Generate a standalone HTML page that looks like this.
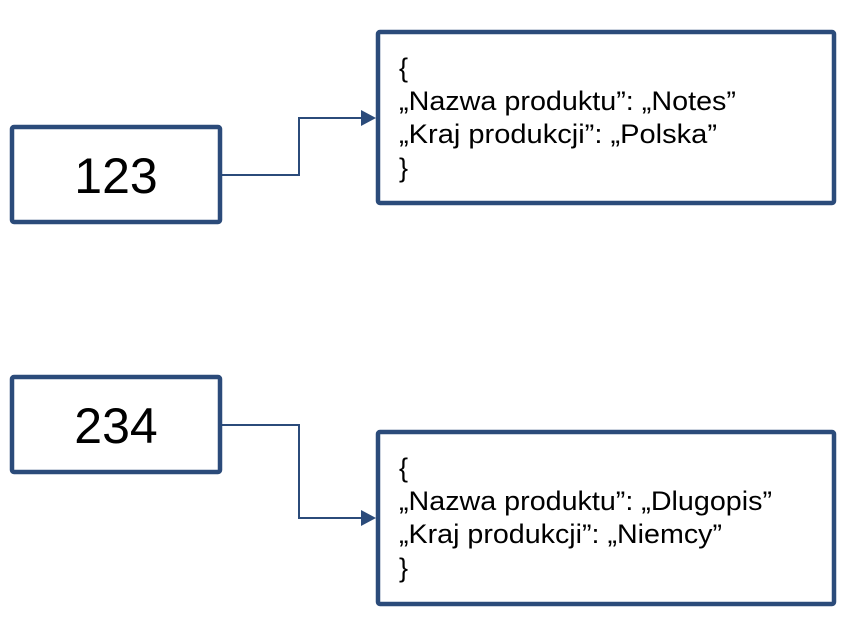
<!DOCTYPE html>
<html><head><meta charset="utf-8"><style>
body{margin:0;background:#fff;}
</style></head><body>
<svg width="846" height="622" xmlns="http://www.w3.org/2000/svg" font-family="Liberation Sans, Arial, sans-serif">
<g fill="none" stroke="#2b4b7a" stroke-width="4.5" stroke-linejoin="round">
<rect x="12" y="127" width="208" height="95" rx="2"/>
<rect x="12" y="377" width="208" height="95" rx="2"/>
<rect x="378" y="32" width="456" height="171" rx="2"/>
<rect x="378" y="432" width="456" height="172" rx="2"/>
</g>
<g fill="none" stroke="#2b4b7a" stroke-width="2">
<polyline points="222,175 299,175 299,118 362,118"/>
<polyline points="222,425 299,425 299,518 362,518"/>
</g>
<g fill="#2b4b7a">
<polygon points="376,118 361,110 361,126"/>
<polygon points="376,518 361,510 361,526"/>
</g>
<g fill="#000" font-size="50" text-anchor="middle">
<text x="116" y="193">123</text>
<text x="116" y="443">234</text>
</g>
<g fill="#000" font-size="27">
<text x="399" y="77">{</text>
<text x="399" y="110" textLength="337" lengthAdjust="spacingAndGlyphs">„Nazwa produktu”: „Notes”</text>
<text x="399" y="143" textLength="318" lengthAdjust="spacingAndGlyphs">„Kraj produkcji”: „Polska”</text>
<text x="399" y="177">}</text>
<text x="399" y="477">{</text>
<text x="399" y="510" textLength="373" lengthAdjust="spacingAndGlyphs">„Nazwa produktu”: „Dlugopis”</text>
<text x="399" y="543" textLength="323" lengthAdjust="spacingAndGlyphs">„Kraj produkcji”: „Niemcy”</text>
<text x="399" y="577">}</text>
</g>
</svg>
</body></html>
